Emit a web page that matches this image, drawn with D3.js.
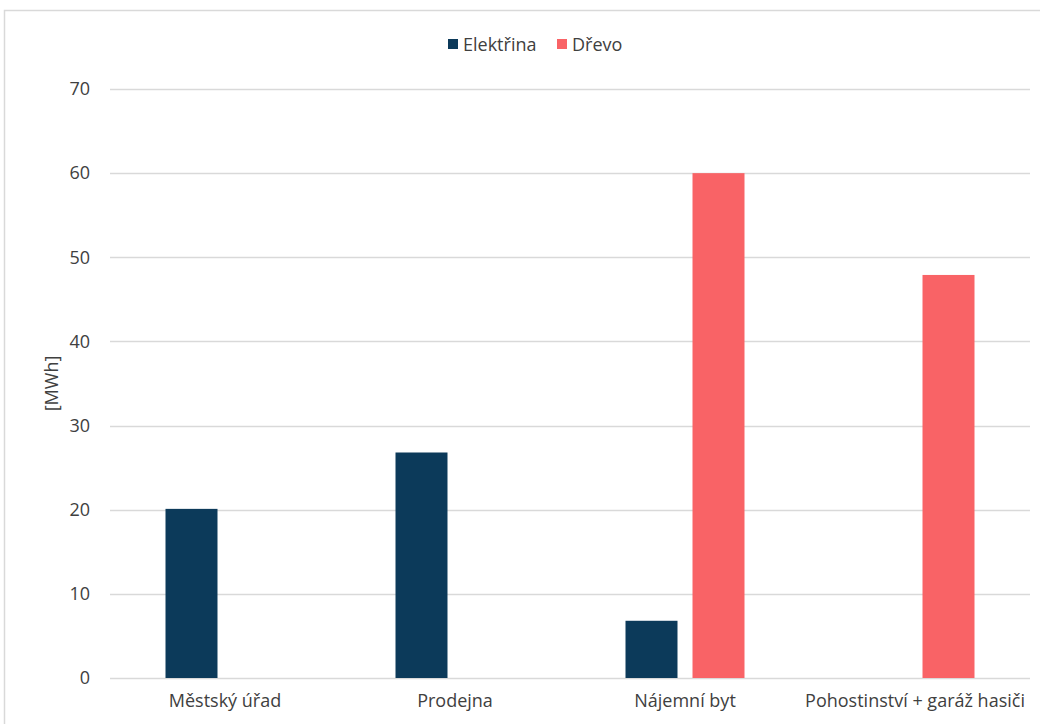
<!DOCTYPE html>
<html>
<head>
<meta charset="utf-8">
<script src="https://cdn.jsdelivr.net/npm/d3@7"></script>
<style>
  html, body { margin: 0; padding: 0; background: #fff; }
  svg { display: block; font-family: "Open Sans", Lato, "Liberation Sans", sans-serif; }
</style>
</head>
<body>
<svg id="chart" width="1040" height="724"></svg>
<script>
// Energy consumption by building, in MWh
const categories = ["Městský úřad", "Prodejna", "Nájemní byt", "Pohostinství + garáž hasiči"];
const seriesNames = ["Elektřina", "Dřevo"];
const elektrina = [20.1, 26.8, 6.8, null];
const drevo = [null, null, 60, 47.9];
const yTicks = [0, 10, 20, 30, 40, 50, 60, 70];
const colors = ["#0c3a5a", "#f96366"];

const FONT = "'Open Sans', Lato, sans-serif";
const FS = 18;
const TEXT = "#404040";

const svg = d3.select("#chart");

// outer frame of the chart area
svg.append("rect")
  .attr("x", 4.5).attr("y", 10.5)
  .attr("width", 1100).attr("height", 800)
  .attr("fill", "none").attr("stroke", "#d9d9d9").attr("stroke-width", 1.5);

const x = d3.scaleBand().domain(categories).range([110, 1030]).paddingInner(0).paddingOuter(0);
const xs = d3.scaleBand().domain(seriesNames).range([55.5, 230 - 55.5]).paddingInner(0.224).paddingOuter(0);
const y = d3.scaleLinear().domain([0, 70]).range([678, 89]);

// gridlines
svg.append("g")
  .selectAll("line").data(yTicks).join("line")
  .attr("x1", 110).attr("x2", 1030)
  .attr("y1", d => Math.round(y(d)) + 0.5).attr("y2", d => Math.round(y(d)) + 0.5)
  .attr("stroke", "#d9d9d9").attr("stroke-width", 1.3);

// y axis labels
const yAxis = d3.axisLeft(y).tickValues(yTicks).tickSize(0).tickPadding(20);
const yg = svg.append("g").attr("transform", "translate(110,0)").call(yAxis);
yg.select(".domain").remove();
yg.selectAll("text").attr("font-size", FS).attr("fill", TEXT).attr("font-family", FONT);

// x axis labels
const xAxis = d3.axisBottom(x).tickSize(0).tickPadding(16);
const xg = svg.append("g").attr("transform", "translate(0,678)").call(xAxis);
xg.select(".domain").remove();
xg.selectAll("text").attr("font-size", FS).attr("fill", TEXT).attr("font-family", FONT);

// bars
const rows = categories.map((c, i) => ({ cat: c, vals: [elektrina[i], drevo[i]] }));
const groups = svg.append("g").selectAll("g").data(rows).join("g")
  .attr("transform", d => `translate(${x(d.cat)},0)`);
groups.selectAll("rect")
  .data(d => d.vals.map((v, j) => ({ name: seriesNames[j], v, j })).filter(e => e.v != null))
  .join("rect")
  .attr("x", d => xs(d.name))
  .attr("width", xs.bandwidth())
  .attr("y", d => y(d.v))
  .attr("height", d => y(0) - y(d.v))
  .attr("fill", d => colors[d.j]);

// y axis title
svg.append("text")
  .attr("transform", `translate(58,${(89 + 678) / 2}) rotate(-90)`)
  .attr("text-anchor", "middle")
  .attr("font-size", FS).attr("fill", TEXT).attr("font-family", FONT)
  .text("[MWh]");

// legend
const legendItems = [
  { name: seriesNames[0], x: 448 },
  { name: seriesNames[1], x: 557 }
];
const lg = svg.append("g");
legendItems.forEach((it, i) => {
  lg.append("rect").attr("x", it.x).attr("y", 39).attr("width", 10).attr("height", 10).attr("fill", colors[i]);
  lg.append("text").attr("x", it.x + 15).attr("y", 51)
    .attr("font-size", FS).attr("fill", TEXT).attr("font-family", FONT).text(it.name);
});
</script>
</body>
</html>
